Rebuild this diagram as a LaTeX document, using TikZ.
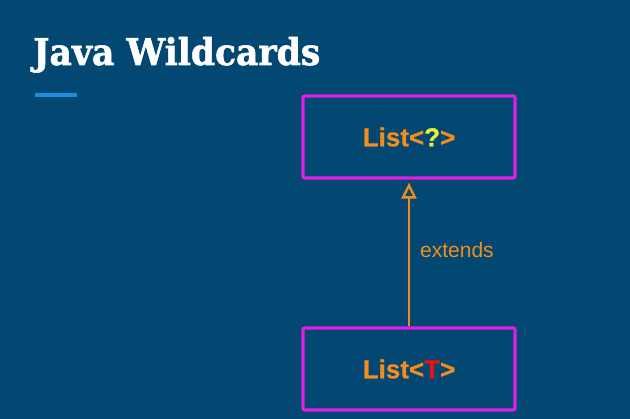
\documentclass[tikz,border=0pt]{standalone}
\usepackage{fontspec}
\usetikzlibrary{arrows.meta}
\newfontfamily\titlefont[BoldFeatures={FakeBold=1.5}]{DejaVu Serif}
\newfontfamily\boxfont[BoldFeatures={FakeBold=0.6}]{Liberation Sans}
\definecolor{bgblue}{RGB}{2,72,114}
\definecolor{linkblue}{RGB}{30,140,225}
\definecolor{boxmag}{RGB}{222,32,230}
\definecolor{orng}{RGB}{242,140,30}
\definecolor{qyellow}{RGB}{232,240,60}
\definecolor{tred}{RGB}{232,20,20}
\tikzset{
  classbox/.style={draw=boxmag, line width=3.2pt, rounded corners=2pt,
    minimum width=212pt, minimum height=82pt, inner sep=0pt,
    font=\boxfont\bfseries\fontsize{26}{30}\selectfont, text=orng},
  extarrow/.style={draw=orng, line width=2.6pt,
    -{Triangle[open, length=16pt, width=15pt, line width=2.4pt]}},
  lbl/.style={font=\boxfont\fontsize{21}{25}\selectfont, text=orng, inner sep=0pt}
}
\begin{document}
\begin{tikzpicture}[x=1pt,y=-1pt]
\fill[bgblue] (0,0) rectangle (630,419);
\useasboundingbox (0,0) rectangle (630,419);
\node[anchor=base west, inner sep=0pt, text=white] (title) at (33,65)
  {\resizebox{287pt}{28pt}{\titlefont\bfseries Java Wildcards}};
\coordinate (ul1) at (35,95);
\coordinate (ul2) at (77,95);
\draw[linkblue, line width=3.2pt] (ul1) -- (ul2);
\node[classbox] (top) at (409,137) {List<\textcolor{qyellow}{?}>};
\node[classbox] (bot) at (409,369) {List<\textcolor{tred}{T}>};
\draw[extarrow] (bot.north) -- ([yshift=-3pt]top.south);
\node[lbl, anchor=west] (ext) at (420,250) {extends};
\end{tikzpicture}
\end{document}
